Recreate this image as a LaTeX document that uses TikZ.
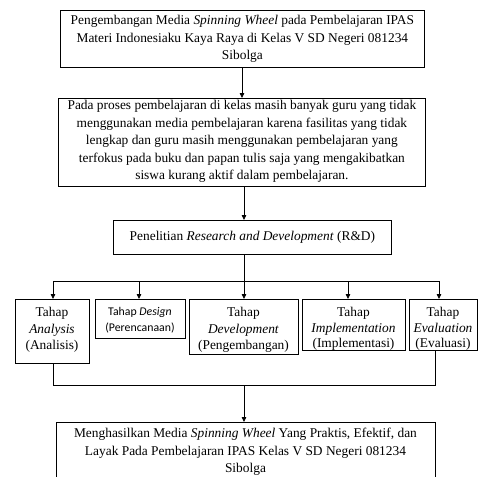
\documentclass[tikz,border=0pt]{standalone}
\usepackage{fontspec}
\setmainfont{Liberation Serif}
\newfontfamily\calib{Carlito}
\usetikzlibrary{arrows.meta}
\begin{document}
\begin{tikzpicture}[x=1pt,y=-1pt,
  rect/.style={draw, line width=0.8pt, rectangle, inner sep=0pt, anchor=north west},
  txt/.style={align=center, inner sep=0pt, font=\fontsize{13.4}{17.6}\selectfont},
  txtb/.style={align=center, inner sep=0pt, anchor=north, font=\fontsize{13.4}{16.5}\selectfont},
  arr/.style={line width=0.8pt, -{Triangle[length=5pt,width=4.5pt]}},
  ln/.style={line width=0.8pt}]
\useasboundingbox (0,0) rectangle (483,477);
% boxes
\node[rect, minimum width=364pt, minimum height=57pt] (top) at (60,10) {};
\node[rect, minimum width=367pt, minimum height=88pt] (prob) at (58,98) {};
\node[rect, minimum width=278pt, minimum height=34pt] (rd) at (113,220) {};
\node[rect, minimum width=74pt, minimum height=64pt] (ana) at (15,299) {};
\node[rect, minimum width=90pt, minimum height=39pt] (des) at (95,299) {};
\node[rect, minimum width=109pt, minimum height=55pt] (dev) at (189,299) {};
\node[rect, minimum width=103pt, minimum height=51pt] (imp) at (302,299) {};
\node[rect, minimum width=68pt, minimum height=51pt] (eva) at (409,299) {};
\node[rect, minimum width=379pt, minimum height=75pt] (res) at (56,422) {};
% texts
\node[txt] (topt) at (top.center)
 {Pengembangan Media \textit{Spinning Wheel} pada Pembelajaran IPAS\\Materi Indonesiaku Kaya Raya di Kelas V SD Negeri 081234\\Sibolga};
\node[txt] (probt) at ([yshift=1pt]prob.center)
 {Pada proses pembelajaran di kelas masih banyak guru yang tidak\\menggunakan media pembelajaran karena fasilitas yang tidak\\lengkap dan guru masih menggunakan pembelajaran yang\\terfokus pada buku dan papan tulis saja yang mengakibatkan\\siswa kurang aktif dalam pembelajaran.};
\node[txt] (rdt) at (rd.center)
 {Penelitian \textit{Research and Development} (R\&D)};
\node[txtb] (anat) at (52,307) {Tahap\\\textit{Analysis}\\(Analisis)};
\node[align=center, inner sep=0pt, anchor=north, font=\calib\fontsize{11.8}{15.5}\selectfont] (dest) at (140,307.5)
 {Tahap \textit{Design}\\(Perencanaan)};
\node[txtb] (devt) at (243.5,307) {Tahap\\\textit{Development}\\(Pengembangan)};
\node[txtb, font=\fontsize{13.4}{15.6}\selectfont] (impt) at (353.5,307) {Tahap\\\textit{Implementation}\\(Implementasi)};
\node[txtb, font=\fontsize{13.4}{15.6}\selectfont] (evat) at (443,307) {Tahap\\\textit{Evaluation}\\(Evaluasi)};
\node[txt, anchor=north] (rest) at (245.5,428)
 {Menghasilkan Media \textit{Spinning Wheel} Yang Praktis, Efektif, dan\\Layak Pada Pembelajaran IPAS Kelas V SD Negeri 081234\\Sibolga};
% connectors
\coordinate (bl) at (53,281);
\coordinate (br) at (439,281);
\coordinate (cl) at (53,385);
\coordinate (cr) at (435,385);
\coordinate (cm) at (244,385);
\draw[arr] (242,0 |- top.south) -- (242,0 |- prob.north);
\draw[arr] (244,0 |- prob.south) -- (244,0 |- rd.north);
\draw[ln] (bl) -- (br);
\draw[arr] (244,0 |- rd.south) -- (244,0 |- dev.north);
\draw[arr] (bl) -- (bl |- ana.north);
\draw[arr] (139,281) -- (139,0 |- des.north);
\draw[arr] (348,281) -- (348,0 |- imp.north);
\draw[arr] (br) -- (br |- eva.north);
\draw[ln] (cl |- ana.south) -- (cl) -- (cr) -- (cr |- eva.south);
\draw[arr] (cm) -- (cm |- res.north);
\end{tikzpicture}
\end{document}
